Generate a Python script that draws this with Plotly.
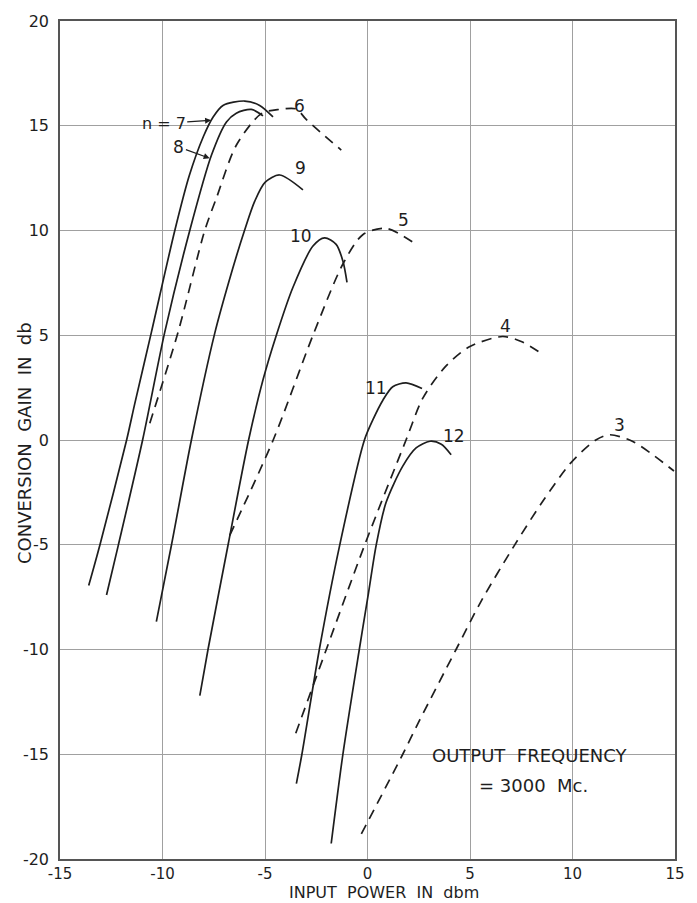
import plotly.graph_objects as go

# ---- data ----
n7_x = [-13.6, -13.05, -11.75, -11.35, -10.54, -9.4, -8.7, -8.0, -7.53, -7.05, -5.99, -5.26, -4.61]
n7_y = [-6.95, -5.0, 0.0, 1.75, 5.15, 10.0, 12.6, 14.5, 15.42, 15.97, 16.18, 15.97, 15.42]

n8_x = [-12.73, -12.16, -10.97, -9.89, -8.67, -7.61, -6.88, -6.4, -5.67, -5.1]
n8_y = [-7.4, -5.04, 0.0, 5.15, 10.0, 13.6, 15.18, 15.6, 15.78, 15.47]

n6_x = [-10.62, -9.24, -7.94, -7.37, -6.4, -5.18, -4.29, -3.47, -2.99, -1.28]
n6_y = [0.8, 5.15, 10.0, 11.55, 14.07, 15.58, 15.78, 15.8, 15.3, 13.84]

n9_x = [-10.3, -9.56, -8.59, -7.45, -6.6, -6.0, -5.5, -5.0, -4.29, -3.15]
n9_y = [-8.67, -5.0, 0.0, 5.1, 8.1, 10.0, 11.4, 12.3, 12.65, 11.94]

n10_x = [-8.18, -7.78, -6.8, -5.8, -5.1, -4.45, -3.64, -2.66, -2.09, -1.53, -1.2, -1.0]
n10_y = [-12.2, -10.0, -5.0, 0.0, 2.86, 4.99, 7.28, 9.26, 9.65, 9.34, 8.54, 7.52]

n5_x = [-6.72, -4.6, -2.66, -1.2, -0.23, 0.91, 2.37]
n5_y = [-4.55, 0.0, 5.0, 8.4, 9.8, 10.1, 9.34]

n11_x = [-3.47, -3.2, -2.35, -1.36, -0.15, 0.26, 0.75, 1.23, 1.88, 2.66]
n11_y = [-16.4, -15.0, -10.0, -5.04, 0.0, 0.96, 1.9, 2.54, 2.73, 2.46]

n4_x = [-3.5, -2.01, -0.15, 1.88, 2.7, 3.8, 4.97, 6.59, 7.5, 8.54]
n4_y = [-14.0, -10.0, -5.04, 0.0, 2.0, 3.5, 4.45, 4.94, 4.7, 4.09]

n12_x = [-1.77, -1.2, -0.4, 0.05, 0.42, 0.9, 1.72, 2.37, 3.05, 3.6, 4.08]
n12_y = [-19.26, -15.0, -10.0, -7.3, -5.04, -3.0, -1.25, -0.38, -0.06, -0.2, -0.7]

n3_x = [-0.3, 1.72, 2.53, 4.32, 5.54, 7.16, 8.5, 9.92, 11.14, 11.79, 12.92, 14.95]
n3_y = [-18.8, -15.0, -13.4, -10.0, -7.7, -5.04, -3.0, -1.09, 0.0, 0.25, -0.06, -1.48]

curve_labels = ["6", "9", "10", "5", "4", "11", "12", "3"]
label_x = [-3.3, -3.25, -3.23, 1.75, 6.72, 0.42, 4.24, 12.27]
label_y = [15.95, 12.97, 9.73, 10.52, 5.45, 2.46, 0.2, 0.73]

x_ticks = [-15, -10, -5, 0, 5, 10, 15]
y_ticks = [-20, -15, -10, -5, 0, 5, 10, 15, 20]

INK = "#1e1e1e"
FONT = "DejaVu Sans"

fig = go.Figure()

solid = [(n7_x, n7_y), (n8_x, n8_y), (n9_x, n9_y), (n10_x, n10_y), (n11_x, n11_y), (n12_x, n12_y)]
dashed = [(n6_x, n6_y), (n5_x, n5_y), (n4_x, n4_y), (n3_x, n3_y)]

for xs, ys in solid:
    fig.add_trace(go.Scatter(x=xs, y=ys, mode="lines", showlegend=False,
                             line=dict(color=INK, width=1.7, shape="spline", smoothing=0.8)))
for xs, ys in dashed:
    fig.add_trace(go.Scatter(x=xs, y=ys, mode="lines", showlegend=False,
                             line=dict(color=INK, width=1.7, shape="spline", smoothing=0.8,
                                       dash="10px,7px")))

for t, x, y in zip(curve_labels, label_x, label_y):
    fig.add_annotation(x=x, y=y, text=t, showarrow=False,
                       font=dict(family=FONT, size=17, color=INK))

# arrowed labels
fig.add_annotation(x=-7.63, y=15.26, ax=-9.94, ay=15.12, axref="x", ayref="y",
                   text="n = 7", showarrow=True, arrowhead=2, arrowsize=1, arrowwidth=1.2,
                   arrowcolor=INK, font=dict(family=FONT, size=16, color=INK))
fig.add_annotation(x=-7.7, y=13.45, ax=-9.2, ay=13.98, axref="x", ayref="y",
                   text="8", showarrow=True, arrowhead=2, arrowsize=1, arrowwidth=1.2,
                   arrowcolor=INK, font=dict(family=FONT, size=17, color=INK))

fig.add_annotation(x=7.92, y=-15.07, text="OUTPUT  FREQUENCY", showarrow=False,
                   font=dict(family=FONT, size=18, color=INK))
fig.add_annotation(x=8.09, y=-16.5, text="= 3000  Mc.", showarrow=False,
                   font=dict(family=FONT, size=18, color=INK))

# axis titles
fig.add_annotation(xref="paper", yref="paper", x=(385 - 60) / 616, y=-(893 - 859) / 844,
                   xanchor="center", yanchor="middle",
                   text="INPUT  POWER  IN  dbm", showarrow=False,
                   font=dict(family=FONT, size=16, color=INK))
fig.add_annotation(xref="paper", yref="paper", x=-(60 - 25) / 616, y=(859 - 440) / 844,
                   xanchor="center", yanchor="middle",
                   text="CONVERSION  GAIN  IN  db", textangle=-90, showarrow=False,
                   font=dict(family=FONT, size=18, color=INK))

fig.update_xaxes(range=[-15, 15], tickvals=x_ticks, ticktext=[str(v) for v in x_ticks],
                 showgrid=True, gridcolor="#a0a0a0", gridwidth=1, zeroline=False,
                 showline=True, linecolor="#555", linewidth=1.5, mirror=True,
                 ticks="", tickfont=dict(family=FONT, size=15, color=INK))
fig.update_yaxes(range=[-20, 20], tickvals=y_ticks, ticktext=[str(v) for v in y_ticks],
                 showgrid=True, gridcolor="#a0a0a0", gridwidth=1, zeroline=False,
                 showline=True, linecolor="#555", linewidth=1.5, mirror=True,
                 ticks="outside", ticklen=6, tickcolor="rgba(0,0,0,0)",
                 tickfont=dict(family=FONT, size=16, color=INK))

fig.update_layout(width=697, height=903, margin=dict(l=60, r=21, t=15, b=44),
                  plot_bgcolor="white", paper_bgcolor="white")

fig.write_html("out.html")
